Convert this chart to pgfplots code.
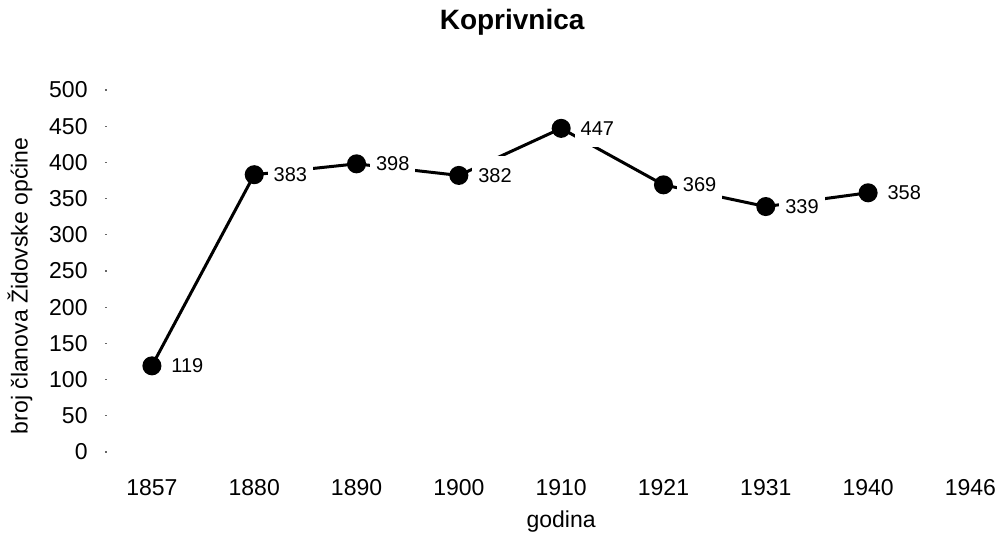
\documentclass[border=0pt]{standalone}
\usepackage{fontspec}
\setmainfont{Liberation Sans}
\usepackage{pgfplots}
\pgfplotsset{compat=1.18}

\begin{document}
\begin{tikzpicture}
\begin{axis}[
  scale only axis, width=445.5pt, height=181pt,
  xmin=-0.459, xmax=8.25, ymin=0, ymax=500,
  clip=false,
  axis line style={draw=none},
  tick pos=left,
  xtick={0,1,2,3,4,5,6,7,8},
  xticklabels={1857,1880,1890,1900,1910,1921,1931,1940,1946},
  ytick={0,50,100,150,200,250,300,350,400,450,500},
  xtick style={draw=none},
  ytick style={black!60,line width=0.6pt},
  major tick length=1pt, tick align=inside,
  tick label style={font=\fontsize{11.5}{13}\selectfont, inner sep=0pt},
  /pgf/number format/assume math mode=true,
  xticklabel style={anchor=center, yshift=-18pt},
  yticklabel style={anchor=east, xshift=-8.5pt},
  title={Koprivnica},
  title style={font=\fontsize{14}{16}\selectfont\bfseries, at={(0.457,1.188)}, anchor=center, yshift=-6pt},
  xlabel={godina},
  xlabel style={font=\fontsize{11.5}{13}\selectfont, at={(0.512,-0.193)}, anchor=center},
  ylabel={broj članova Židovske općine},
  ylabel style={font=\fontsize{11.5}{13}\selectfont, at={(-0.0954,0.459)}, anchor=center},
]
\addplot[black, line width=1.5pt, mark=*, mark size=4pt,
  nodes near coords,
  nodes near coords style={font=\fontsize{10}{12}\selectfont, anchor=west, fill=white,
    inner xsep=3pt, inner ysep=6pt, xshift=6pt},
  /pgf/number format/assume math mode=true]
  coordinates {(0,119)(1,383)(2,398)(3,382)(4,447)(5,369)(6,339)(7,358)};
\path (rel axis cs:-0.1178,-0.2348) rectangle (rel axis cs:1.00449,1.2486);
\end{axis}
\end{tikzpicture}
\end{document}
